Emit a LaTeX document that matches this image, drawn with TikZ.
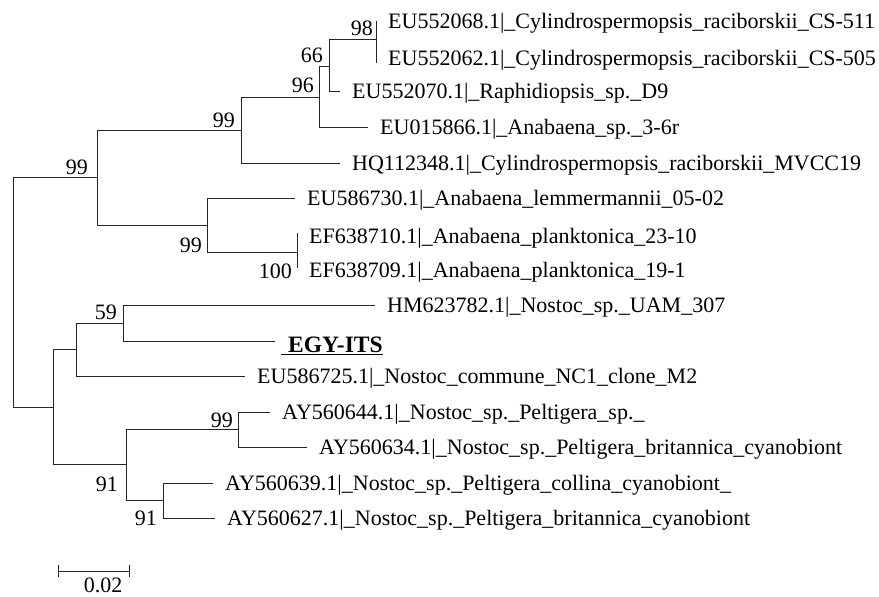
\documentclass[tikz,border=0pt]{standalone}
\usepackage{fontspec}
\setmainfont{Liberation Serif}
\usetikzlibrary{positioning}

\begin{document}
\begin{tikzpicture}[x=1pt,y=-1pt,
    every node/.style={font=\fontsize{22}{25}\selectfont, inner sep=0pt},
    branch/.style={line width=0.8pt, black!85},
    taxon/.style={anchor=west, text height=14.5pt, text depth=0pt},
    boot/.style={anchor=base east}]

\useasboundingbox (0,0) rectangle (879,597);

% ==== 内部节点（像素坐标） ====
\coordinate (root) at (13,292);
\coordinate (nA) at (97,177);
\coordinate (nB) at (241,130);
\coordinate (nC) at (319,97);
\coordinate (nD) at (329,66);
\coordinate (nE) at (376,39);
\coordinate (nF) at (207,225);
\coordinate (nG) at (297,252);
\coordinate (nH) at (53,407);
\coordinate (nI) at (76,349);
\coordinate (nJ) at (123,323);
\coordinate (nK) at (126,464);
\coordinate (nL) at (238,429);
\coordinate (nM) at (163,500);

% ==== 末端 ====
\coordinate (t1) at (376,21);
\coordinate (t2) at (376,63);
\coordinate (t3) at (340,91);
\coordinate (t4) at (368,127);
\coordinate (t5) at (340,163);
\coordinate (t6) at (295,198);
\coordinate (t7) at (297,233);
\coordinate (t8) at (297,268);
\coordinate (t9) at (375,305);
\coordinate (t10) at (275,341);
\coordinate (t11) at (245,376);
\coordinate (t12) at (270,412);
\coordinate (t13) at (307,447);
\coordinate (t14) at (213,483);
\coordinate (t15) at (215,518);

% ==== 枝 ====
\draw[branch] (root) |- (nA) (root) |- (nH);
\draw[branch] (nA) |- (nB) (nA) |- (nF);
\draw[branch] (nB) |- (nC) (nB) |- (t5);
\draw[branch] (nC) |- (nD) (nC) |- (t4);
\draw[branch] (nD) |- (nE) (nD) |- (t3);
\draw[branch] (nE) |- (t1) (nE) |- (t2);
\draw[branch] (nF) |- (t6) (nF) |- (nG);
\draw[branch] (nG) |- (t7) (nG) |- (t8);
\draw[branch] (nH) |- (nI) (nH) |- (nK);
\draw[branch] (nI) |- (nJ) (nI) |- (t11);
\draw[branch] (nJ) |- (t9) (nJ) |- (t10);
\draw[branch] (nK) |- (nL) (nK) |- (nM);
\draw[branch] (nL) |- (t12) (nL) |- (t13);
\draw[branch] (nM) |- (t14) (nM) |- (t15);

% ==== 序列名 ====
\node[taxon, right=12pt of t1] (l1) {EU552068.1|\_Cylindrospermopsis\_raciborskii\_CS-511};
\node[taxon, right=12pt of t2, yshift=5pt] (l2) {EU552062.1|\_Cylindrospermopsis\_raciborskii\_CS-505};
\node[taxon, right=12pt of t3] (l3) {EU552070.1|\_Raphidiopsis\_sp.\_D9};
\node[taxon, right=12pt of t4] (l4) {EU015866.1|\_Anabaena\_sp.\_3-6r};
\node[taxon, right=12pt of t5] (l5) {HQ112348.1|\_Cylindrospermopsis\_raciborskii\_MVCC19};
\node[taxon, right=12pt of t6] (l6) {EU586730.1|\_Anabaena\_lemmermannii\_05-02};
\node[taxon, right=12pt of t7, yshift=-3pt] (l7) {EF638710.1|\_Anabaena\_planktonica\_23-10};
\node[taxon, right=12pt of t8, yshift=-2pt] (l8) {EF638709.1|\_Anabaena\_planktonica\_19-1};
\node[taxon, right=12pt of t9] (l9) {HM623782.1|\_Nostoc\_sp.\_UAM\_307};
\node[taxon, right=6pt of t10, yshift=-4pt, text height=15.5pt,
      font=\fontsize{23.5}{26}\selectfont\bfseries] (l10) {\underline{\hspace{7pt}EGY-ITS}};
\node[taxon, right=12pt of t11] (l11) {EU586725.1|\_Nostoc\_commune\_NC1\_clone\_M2};
\node[taxon, right=12pt of t12] (l12) {AY560644.1|\_Nostoc\_sp.\_Peltigera\_sp.\_};
\node[taxon, right=12pt of t13] (l13) {AY560634.1|\_Nostoc\_sp.\_Peltigera\_britannica\_cyanobiont};
\node[taxon, right=12pt of t14] (l14) {AY560639.1|\_Nostoc\_sp.\_Peltigera\_collina\_cyanobiont\_};
\node[taxon, right=12pt of t15] (l15) {AY560627.1|\_Nostoc\_sp.\_Peltigera\_britannica\_cyanobiont};

% ==== bootstrap 值 ====
\node[boot] (bE) at (373,35) {98};
\node[boot] (bD) at (323,62) {66};
\node[boot] (bC) at (314,92) {96};
\node[boot] (bB) at (235,127) {99};
\node[boot] (bA) at (88,174) {99};
\node[boot] (bF) at (202,252) {99};
\node[boot] (bG) at (292,278) {100};
\node[boot] (bJ) at (117,319) {59};
\node[boot] (bL) at (233,427) {99};
\node[boot] (bK) at (118,491) {91};
\node[boot] (bM) at (157,525) {91};

% ==== 比例尺 ====
\coordinate (sbL) at (58,571);
\coordinate (sbR) at (129,571);
\draw[branch] (sbL) -- (sbR);
\draw[branch] ([yshift=6pt]sbL) -- ([yshift=-6pt]sbL);
\draw[branch] ([yshift=6pt]sbR) -- ([yshift=-6pt]sbR);
\node[anchor=base] (sbtxt) at (103,592) {0.02};

\end{tikzpicture}
\end{document}
